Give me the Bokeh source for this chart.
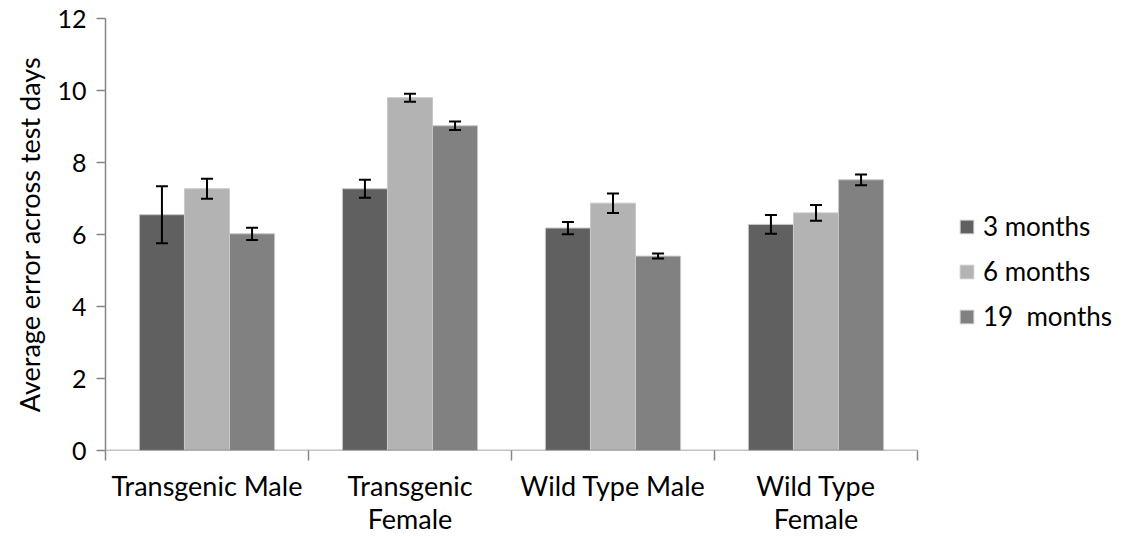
from bokeh.plotting import figure
from bokeh.models import (ColumnDataSource, Whisker, FixedTicker, Legend, LegendItem,
                          Range1d, TeeHead)
from bokeh.transform import dodge
from bokeh.embed import file_html
from bokeh.resources import INLINE

categories = ["Transgenic Male", "Transgenic\nFemale", "Wild Type Male", "Wild Type\nFemale"]
series = ["3 months", "6 months", "19  months"]
means_3 = [6.55, 7.27, 6.18, 6.28]
err_3 = [0.79, 0.25, 0.17, 0.26]
means_6 = [7.27, 9.80, 6.87, 6.60]
err_6 = [0.28, 0.11, 0.27, 0.22]
means_19 = [6.02, 9.02, 5.40, 7.52]
err_19 = [0.17, 0.12, 0.07, 0.15]
y_ticks = [0, 2, 4, 6, 8, 10, 12]

colors = ["#606060", "#b3b3b3", "#818181"]
offsets = [-0.222, 0.0, 0.222]
bar_w = 0.222
FONT = "Lato"
AXIS_GREY = "#868686"

n = len(categories)
centers = [i + 0.5 for i in range(n)]

# plot frame spans 105..1125 px; category area occupies 105..917 px
FRAME_L, AXIS_R, W = 105, 917, 1125
x_end = n * (W - FRAME_L) / (AXIS_R - FRAME_L)

p = figure(width=W, height=537, output_backend="svg", toolbar_location=None,
           x_range=Range1d(0, x_end), y_range=Range1d(0, 12),
           min_border_left=FRAME_L, min_border_right=0, min_border_top=18,
           min_border_bottom=87)
p.outline_line_color = None
p.grid.grid_line_color = None
p.background_fill_color = "white"
p.border_fill_color = "white"

items = []
for name, m, e, c, off in zip(series, [means_3, means_6, means_19],
                              [err_3, err_6, err_19], colors, offsets):
    src = ColumnDataSource(dict(x=centers, top=m,
                                upper=[a + b for a, b in zip(m, e)],
                                lower=[a - b for a, b in zip(m, e)]))
    r = p.vbar(x=dodge("x", off), top="top", bottom=0, width=bar_w, source=src,
               fill_color=c, line_color="#c8c8c8", line_width=1)
    w = Whisker(base=dodge("x", off), upper="upper", lower="lower", source=src,
                line_color="black", line_width=2, level="overlay",
                upper_head=TeeHead(size=12, line_width=2, line_color="black"),
                lower_head=TeeHead(size=12, line_width=2, line_color="black"))
    p.add_layout(w)
    items.append(LegendItem(label=name, renderers=[r]))

# visible x-axis line only across the categories
p.segment(x0=[0], x1=[n], y0=[0], y1=[0], line_color=AXIS_GREY, line_width=1.5)

# x axis: labels at centres, ticks at boundaries
p.xaxis.ticker = FixedTicker(ticks=centers, minor_ticks=list(range(n + 1)))
p.xaxis.major_label_overrides = {c: lab for c, lab in zip(centers, categories)}
p.xaxis.major_tick_out = 0
p.xaxis.major_tick_in = 0
p.xaxis.minor_tick_out = 10
p.xaxis.minor_tick_in = 0
p.xaxis.minor_tick_line_color = AXIS_GREY
p.xaxis.minor_tick_line_width = 1.5
p.xaxis.axis_line_color = None
p.xaxis.major_label_text_font = FONT
p.xaxis.major_label_text_font_size = "27px"
p.xaxis.major_label_text_line_height = 1.0
p.xaxis.major_label_text_color = "black"
p.xaxis.major_label_standoff = 8

p.yaxis.ticker = FixedTicker(ticks=y_ticks)
p.yaxis.minor_tick_line_color = None
p.yaxis.major_tick_out = 9
p.yaxis.major_tick_in = 0
p.yaxis.major_tick_line_color = AXIS_GREY
p.yaxis.major_tick_line_width = 1.5
p.yaxis.axis_line_color = AXIS_GREY
p.yaxis.axis_line_width = 1.5
p.yaxis.major_label_text_font = FONT
p.yaxis.major_label_text_font_size = "25px"
p.yaxis.major_label_text_color = "black"
p.yaxis.major_label_standoff = 10
p.yaxis.axis_label = "Average error across test days"
p.yaxis.axis_label_text_font = FONT
p.yaxis.axis_label_text_font_size = "27px"
p.yaxis.axis_label_text_font_style = "normal"
p.yaxis.axis_label_text_color = "black"
p.yaxis.axis_label_standoff = 8

legend = Legend(items=items, location=(853, 118), orientation="vertical",
                glyph_width=17, glyph_height=17, label_standoff=8, spacing=13,
                padding=0, margin=0, border_line_color=None,
                background_fill_alpha=0,
                label_text_font=FONT, label_text_font_size="26px",
                label_text_color="black")
p.add_layout(legend, "center")

open("out.html", "w").write(file_html(p, INLINE))
